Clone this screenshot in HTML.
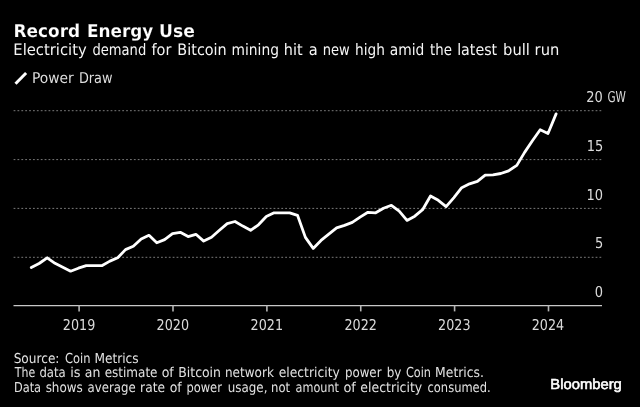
<!DOCTYPE html>
<html lang="en"><head><meta charset="utf-8"><title>Record Energy Use</title>
<style>
html,body{margin:0;padding:0;background:#000;}
body{width:640px;height:407px;overflow:hidden;}
svg{display:block;}
text{font-family:"DejaVu Sans","Liberation Sans",sans-serif;fill:#fff;text-rendering:geometricPrecision;}
.t{font-weight:bold;font-size:17px;stroke:#000;stroke-width:0.15px;}
.s{font-size:14.33px;fill:#f6f6f6;}
.l{font-size:13.4px;fill:#dedede;}
.a{font-family:"DejaVu Sans Condensed","Liberation Sans",sans-serif;font-size:13.5px;fill:#dadada;}
.m{text-anchor:middle;}
.e{text-anchor:end;}
.f{font-size:12.1px;fill:#e2e2e2;}
.b{font-family:"Liberation Sans",sans-serif;font-size:14.4px;stroke:#fff;stroke-width:0.55px;}
</style></head>
<body>
<svg width="640" height="407" viewBox="0 0 640 407">
<rect width="640" height="407" fill="#000"/>
<text class="t" transform="translate(0 36.9) scale(1 1.04)"><tspan x="13.51" textLength="66.68" lengthAdjust="spacingAndGlyphs">Record</tspan> <tspan x="87.01" textLength="66.35" lengthAdjust="spacingAndGlyphs">Energy</tspan> <tspan x="159.09" textLength="35.75" lengthAdjust="spacingAndGlyphs">Use</tspan></text>
<text class="s" transform="translate(0 55.3) scale(1 1.10)"><tspan x="13.33" textLength="73.37" lengthAdjust="spacingAndGlyphs">Electricity</tspan> <tspan x="92.41" textLength="53.80" lengthAdjust="spacingAndGlyphs">demand</tspan> <tspan x="151.45" textLength="19.91" lengthAdjust="spacingAndGlyphs">for</tspan> <tspan x="177.37" textLength="49.38" lengthAdjust="spacingAndGlyphs">Bitcoin</tspan> <tspan x="231.54" textLength="47.47" lengthAdjust="spacingAndGlyphs">mining</tspan> <tspan x="283.74" textLength="18.82" lengthAdjust="spacingAndGlyphs">hit</tspan> <tspan x="308.86" textLength="8.95" lengthAdjust="spacingAndGlyphs">a</tspan> <tspan x="322.74" textLength="26.95" lengthAdjust="spacingAndGlyphs">new</tspan> <tspan x="355.05" textLength="29.89" lengthAdjust="spacingAndGlyphs">high</tspan> <tspan x="389.75" textLength="34.63" lengthAdjust="spacingAndGlyphs">amid</tspan> <tspan x="430.05" textLength="21.91" lengthAdjust="spacingAndGlyphs">the</tspan> <tspan x="457.13" textLength="40.05" lengthAdjust="spacingAndGlyphs">latest</tspan> <tspan x="503.12" textLength="26.81" lengthAdjust="spacingAndGlyphs">bull</tspan> <tspan x="534.62" textLength="24.70" lengthAdjust="spacingAndGlyphs">run</tspan></text>
<line x1="15.5" y1="83.7" x2="26.1" y2="73.0" stroke="#fff" stroke-width="3"/>
<text class="l" transform="translate(0 82.8) scale(1 1.11)"><tspan x="32.01" textLength="41.79" lengthAdjust="spacingAndGlyphs">Power</tspan> <tspan x="78.90" textLength="33.69" lengthAdjust="spacingAndGlyphs">Draw</tspan></text>
<g stroke="#7a7a7a" stroke-width="1" stroke-dasharray="1.8 2.08"><line x1="13.6" x2="601.5" y1="110.7" y2="110.7"/><line x1="13.6" x2="601.5" y1="159.6" y2="159.6"/><line x1="13.6" x2="601.5" y1="208.4" y2="208.4"/><line x1="13.6" x2="601.5" y1="257.3" y2="257.3"/></g>
<g stroke="#c8c8c8" stroke-width="1.4"><line x1="13.5" x2="602" y1="305.6" y2="305.6"/></g>
<g stroke="#b4b4b4" stroke-width="1.6"><line x1="79.1" x2="79.1" y1="305.6" y2="311.4"/><line x1="173.0" x2="173.0" y1="305.6" y2="311.4"/><line x1="266.9" x2="266.9" y1="305.6" y2="311.4"/><line x1="360.75" x2="360.75" y1="305.6" y2="311.4"/><line x1="454.6" x2="454.6" y1="305.6" y2="311.4"/><line x1="548.5" x2="548.5" y1="305.6" y2="311.4"/></g>
<text class="a" transform="translate(0 101.9) scale(1 1.11)"><tspan x="586.35" textLength="16.53" lengthAdjust="spacingAndGlyphs">20</tspan> <tspan x="607.46" textLength="18.52" lengthAdjust="spacingAndGlyphs">GW</tspan></text><text class="a" transform="translate(0 150.7) scale(1 1.11)"><tspan x="586.72" textLength="16.53" lengthAdjust="spacingAndGlyphs">15</tspan></text><text class="a" transform="translate(0 199.5) scale(1 1.11)"><tspan x="586.55" textLength="16.53" lengthAdjust="spacingAndGlyphs">10</tspan></text><text class="a" transform="translate(0 248.2) scale(1 1.11)"><tspan x="594.91" textLength="8.28" lengthAdjust="spacingAndGlyphs">5</tspan></text><text class="a" transform="translate(0 296.9) scale(1 1.11)"><tspan x="594.89" textLength="8.28" lengthAdjust="spacingAndGlyphs">0</tspan></text><text class="a" transform="translate(0 330.1) scale(1 1.11)"><tspan x="62.82" textLength="32.45" lengthAdjust="spacingAndGlyphs">2019</tspan> <tspan x="156.62" textLength="32.45" lengthAdjust="spacingAndGlyphs">2020</tspan> <tspan x="250.56" textLength="32.45" lengthAdjust="spacingAndGlyphs">2021</tspan> <tspan x="344.42" textLength="32.45" lengthAdjust="spacingAndGlyphs">2022</tspan> <tspan x="438.09" textLength="32.45" lengthAdjust="spacingAndGlyphs">2023</tspan> <tspan x="531.76" textLength="32.45" lengthAdjust="spacingAndGlyphs">2024</tspan></text>
<path d="M31.3,267.6 L39.1,263.5 L47.2,257.8 L55.0,263.3 L62.8,267.2 L70.6,271.2 L78.4,268.2 L86.2,265.7 L94.0,265.7 L101.8,265.7 L109.9,261.1 L117.7,257.8 L125.5,249.6 L133.3,246.3 L141.2,239.0 L149.0,235.3 L156.8,242.8 L164.6,239.6 L172.5,233.6 L180.3,232.3 L188.1,236.6 L195.9,234.3 L203.7,241.1 L211.5,237.3 L219.4,230.3 L227.2,223.6 L235.0,221.5 L242.8,226.1 L250.6,230.3 L258.5,224.8 L266.3,216.5 L274.1,212.8 L281.9,212.8 L289.7,212.8 L297.5,215.3 L305.4,237.4 L313.2,248.4 L321.0,240.4 L328.8,234.1 L336.6,227.9 L344.5,225.4 L352.3,222.4 L360.1,217.1 L367.9,212.3 L375.7,212.8 L383.5,208.3 L391.4,205.3 L399.2,211.1 L407.0,220.4 L414.8,216.2 L422.6,209.7 L430.5,196.0 L438.3,200.3 L446.1,206.7 L453.9,197.6 L461.7,187.7 L469.6,183.8 L477.4,181.4 L485.2,175.1 L493.0,174.9 L500.8,173.5 L508.6,170.9 L516.8,165.4 L524.6,152.4 L532.4,140.8 L540.2,129.8 L548.0,133.5 L556.1,113.9" fill="none" stroke="#fff" stroke-width="2.8" stroke-linejoin="round" stroke-linecap="round"/>
<text class="f" transform="translate(0 362.6) scale(1 1.13)"><tspan x="13.65" textLength="45.83" lengthAdjust="spacingAndGlyphs">Source:</tspan> <tspan x="65.01" textLength="25.44" lengthAdjust="spacingAndGlyphs">Coin</tspan> <tspan x="94.47" textLength="44.17" lengthAdjust="spacingAndGlyphs">Metrics</tspan></text>
<text class="f" transform="translate(0 377.1) scale(1 1.13)"><tspan x="14.77" textLength="20.42" lengthAdjust="spacingAndGlyphs">The</tspan> <tspan x="39.40" textLength="26.29" lengthAdjust="spacingAndGlyphs">data</tspan> <tspan x="70.30" textLength="10.28" lengthAdjust="spacingAndGlyphs">is</tspan> <tspan x="84.83" textLength="15.56" lengthAdjust="spacingAndGlyphs">an</tspan> <tspan x="104.63" textLength="52.86" lengthAdjust="spacingAndGlyphs">estimate</tspan> <tspan x="161.65" textLength="12.14" lengthAdjust="spacingAndGlyphs">of</tspan> <tspan x="178.24" textLength="42.77" lengthAdjust="spacingAndGlyphs">Bitcoin</tspan> <tspan x="224.88" textLength="49.00" lengthAdjust="spacingAndGlyphs">network</tspan> <tspan x="278.76" textLength="61.02" lengthAdjust="spacingAndGlyphs">electricity</tspan> <tspan x="344.90" textLength="36.62" lengthAdjust="spacingAndGlyphs">power</tspan> <tspan x="386.64" textLength="14.71" lengthAdjust="spacingAndGlyphs">by</tspan> <tspan x="405.92" textLength="25.01" lengthAdjust="spacingAndGlyphs">Coin</tspan> <tspan x="435.10" textLength="48.93" lengthAdjust="spacingAndGlyphs">Metrics.</tspan></text>
<text class="f" transform="translate(0 391.9) scale(1 1.13)"><tspan x="13.94" textLength="27.13" lengthAdjust="spacingAndGlyphs">Data</tspan> <tspan x="45.63" textLength="37.18" lengthAdjust="spacingAndGlyphs">shows</tspan> <tspan x="87.57" textLength="48.05" lengthAdjust="spacingAndGlyphs">average</tspan> <tspan x="140.11" textLength="24.87" lengthAdjust="spacingAndGlyphs">rate</tspan> <tspan x="169.66" textLength="12.03" lengthAdjust="spacingAndGlyphs">of</tspan> <tspan x="186.43" textLength="35.48" lengthAdjust="spacingAndGlyphs">power</tspan> <tspan x="227.77" textLength="39.68" lengthAdjust="spacingAndGlyphs">usage,</tspan> <tspan x="271.12" textLength="19.08" lengthAdjust="spacingAndGlyphs">not</tspan> <tspan x="295.55" textLength="43.48" lengthAdjust="spacingAndGlyphs">amount</tspan> <tspan x="343.47" textLength="12.43" lengthAdjust="spacingAndGlyphs">of</tspan> <tspan x="360.35" textLength="61.93" lengthAdjust="spacingAndGlyphs">electricity</tspan> <tspan x="427.51" textLength="63.13" lengthAdjust="spacingAndGlyphs">consumed.</tspan></text>
<text class="b" x="550.3" y="389.1" textLength="71.5" lengthAdjust="spacingAndGlyphs">Bloomberg</text>
</svg>
</body></html>
